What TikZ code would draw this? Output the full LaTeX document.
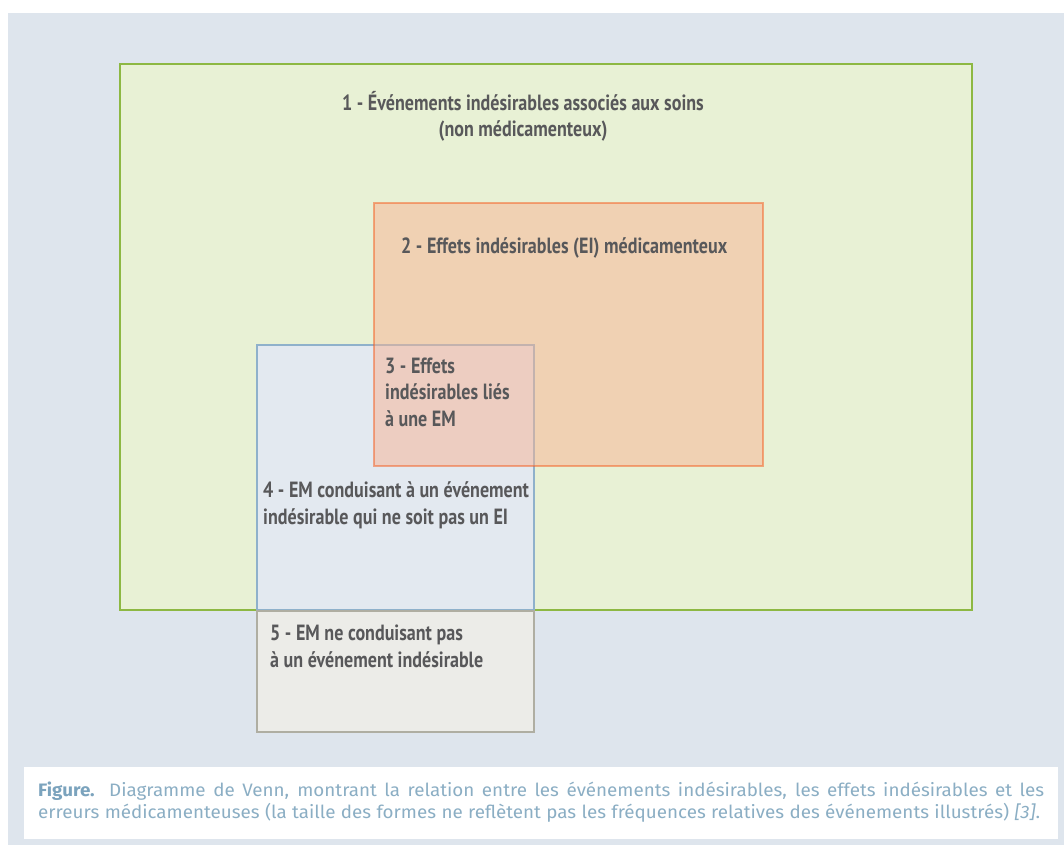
\documentclass[tikz,border=0pt]{standalone}
\usepackage{fontspec}
\usepackage{tikz}
\newfontfamily\boxfont[FakeStretch=0.82]{PT Sans}
\newfontfamily\capfont[FakeStretch=1.045]{Fira Sans}
\definecolor{panelbg}{HTML}{DEE5ED}
\definecolor{soinsline}{HTML}{8DB843}
\definecolor{soinsfill}{HTML}{E8F1D5}
\definecolor{eiline}{HTML}{F45D1F}
\definecolor{eifill}{HTML}{F8B393}
\definecolor{emline}{HTML}{8FB1CB}
\definecolor{emfill}{HTML}{E3E9F0}
\definecolor{nonline}{HTML}{AFAEA2}
\definecolor{nonfill}{HTML}{ECECE8}
\definecolor{txtgrey}{HTML}{58585A}
\definecolor{capbold}{HTML}{7BA3BD}
\definecolor{captxt}{HTML}{8BAEC4}

\begin{document}
\begin{tikzpicture}[x=1pt,y=-1pt,
  lbl/.style={inner sep=0pt, anchor=base west, align=left, text=txtgrey,
    font=\fontsize{22}{26.3}\selectfont\boxfont\bfseries},
  legtext/.style={inner sep=0pt, anchor=base west, align=left, text=captxt,
    font=\fontsize{18}{21.5}\selectfont\capfont}]
 \useasboundingbox (0,0) rectangle (1064,845);
 \fill[panelbg] (8,13) rectangle (1064,845);
 \fill[white] (24,767) rectangle (1058,839);
%
 \draw[line width=2.8pt, draw=soinsline, fill=soinsfill] (120,64) rectangle (972,610);
 \draw[line width=2pt, draw=emline, fill=emfill] (257,345) rectangle (534,610);
 \draw[line width=2pt, draw=eiline, fill=eifill, opacity=0.5] (374,203) rectangle (763,466);
 \draw[line width=2pt, draw=nonline, fill=nonfill] (257,611) rectangle (534,732);
%
 % base = last line of each label
 \node[lbl, anchor=base, align=center] (soins) at (523,137)
   {1 - Événements indésirables associés aux soins\\(non médicamenteux)};
 \node[lbl] (ei) at (401,253) {2 - Effets indésirables (EI) médicamenteux};
 \node[lbl] (eiem) at (385,426) {3 - Effets\\indésirables liés\\à une EM};
 \node[lbl] (emautre) at (263,524)
   {4 - EM conduisant à un événement\\indésirable qui ne soit pas un EI};
 \node[lbl] (emsans) at (270,667)
   {5 - EM ne conduisant pas\\à un événement indésirable};
%
 \node[legtext] (legende) at (38,818)
   {\makebox[1006pt][s]{{\color{capbold}\bfseries Figure.} Diagramme de Venn, montrant la relation entre les événements indésirables, les effets indésirables et les}\\
    \makebox[1002pt][s]{erreurs médicamenteuses (la taille des formes ne reflètent pas les fréquences relatives des événements illustrés) {\itshape [3]}.}};
\end{tikzpicture}
\end{document}
